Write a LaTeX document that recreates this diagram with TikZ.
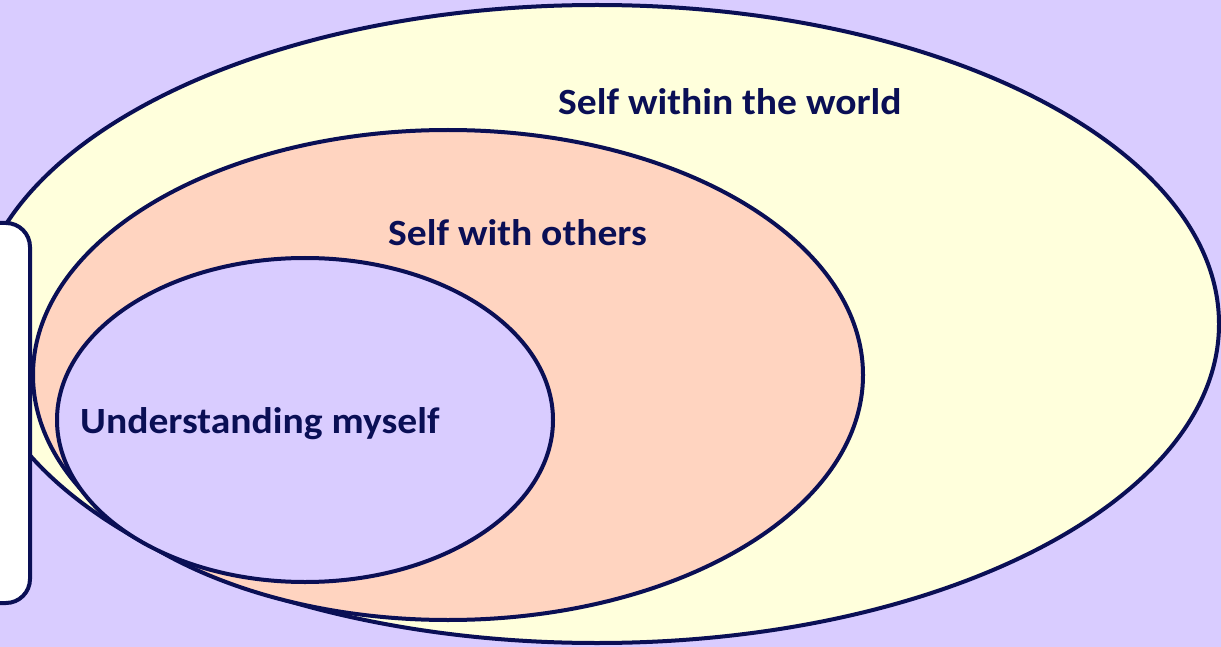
\documentclass[tikz,border=0pt]{standalone}
\usepackage{fontspec}
\setmainfont{Carlito}[FakeStretch=1.07]
\usepackage{xcolor}

\definecolor{bglav}{HTML}{D9CCFF}
\definecolor{worldyel}{HTML}{FFFFDC}
\definecolor{otherpeach}{HTML}{FFD4C0}
\definecolor{selflav}{HTML}{D9CCFF}
\definecolor{navy}{HTML}{0A0F55}

\begin{document}
\begin{tikzpicture}[
  x=1pt, y=-1pt,
  every node/.style={font=\bfseries\fontsize{37}{42}\selectfont, text=navy, inner sep=0pt},
  ring/.style={draw=navy, line width=4pt},
  panel/.style={draw=navy, line width=4pt, fill=white, rounded corners=24pt},
]

\useasboundingbox (0,0) rectangle (1221,647);
\clip (0,0) rectangle (1221,647);
\fill[bglav] (0,0) rectangle (1221,647);

% nested circles, outer to inner
\draw[ring, fill=worldyel] (597,324) ellipse [x radius=622pt, y radius=319pt];
\draw[ring, fill=otherpeach] (448,375) ellipse [x radius=415pt, y radius=245pt];
\draw[ring, fill=selflav] (305,420) ellipse [x radius=248pt, y radius=162pt];

% side panel, cut by the left edge
\draw[panel] (-60,223) rectangle (30,603);

% labels
\node[anchor=base west] (world) at (558,115) {Self within the world};
\node[anchor=base west] (others) at (388,246) {Self with others};
\node[anchor=base west] (myself) at (80,433) {Understanding myself};

\end{tikzpicture}
\end{document}
